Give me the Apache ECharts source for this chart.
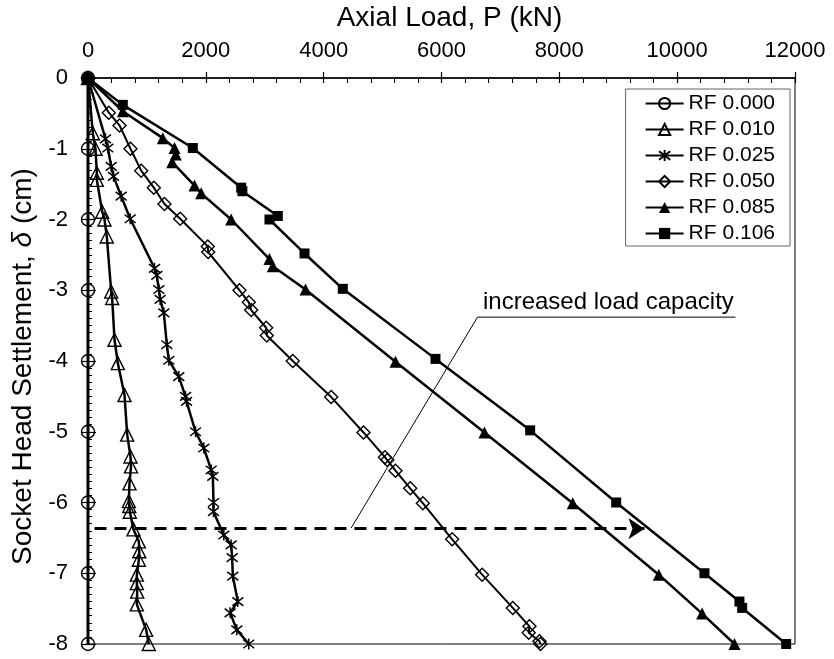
<!DOCTYPE html>
<html>
<head>
<meta charset="utf-8">
<script src="https://cdn.jsdelivr.net/npm/echarts@6/dist/echarts.min.js"></script>
<style>
html,body{margin:0;padding:0;background:#fff;}
#c{width:834px;height:659px;}
</style>
</head>
<body>
<div id="c"></div>
<script>
// ---- data (P in kN, settlement in cm) ----
const seriesNames = ['RF 0.000','RF 0.010','RF 0.025','RF 0.050','RF 0.085','RF 0.106'];
const xTicks = [0,2000,4000,6000,8000,10000,12000];
const yTicks = [0,-1,-2,-3,-4,-5,-6,-7,-8];

const rf000 = [[0,0],[0,-1],[0,-2],[0,-3],[0,-4],[0,-5],[0,-6],[0,-7],[0,-8]];
const rf010 = [[0,0],[82,-0.78],[127,-1.0],[150,-1.34],[150,-1.44],[241,-1.89],[280,-2.0],[319,-2.24],
  [394,-3.02],[410,-3.11],[450,-3.70],[506,-4.03],[620,-4.48],[665,-5.04],[721,-5.35],[730,-5.49],
  [704,-5.73],[693,-5.98],[700,-6.05],[710,-6.13],[772,-6.38],[863,-6.55],[870,-6.69],[863,-6.81],
  [829,-7.02],[829,-7.14],[835,-7.26],[829,-7.44],[987,-7.80],[1032,-8.0]];
const rf025 = [[0,0],[297,-0.86],[337,-0.99],[394,-1.25],[433,-1.39],[563,-1.67],[716,-1.99],[1129,-2.69],
  [1168,-2.79],[1202,-2.99],[1225,-3.13],[1287,-3.32],[1338,-3.77],[1372,-3.99],[1541,-4.22],[1655,-4.50],
  [1672,-4.57],[1825,-5.00],[1966,-5.23],[2091,-5.54],[2119,-5.63],[2130,-6.00],[2130,-6.13],[2305,-6.46],
  [2430,-6.60],[2447,-6.78],[2458,-7.04],[2543,-7.40],[2413,-7.56],[2526,-7.80],[2729,-8.0]];
const rf050 = [[0,0],[353,-0.49],[535,-0.67],[721,-1.0],[903,-1.31],[1117,-1.55],[1298,-1.78],[1565,-1.99],
  [2033,-2.38],[2040,-2.46],[2571,-3.0],[2729,-3.17],[2770,-3.28],[3024,-3.53],[3035,-3.64],[3476,-4.0],
  [4128,-4.51],[4676,-5.01],[5040,-5.36],[5080,-5.40],[5219,-5.55],[5469,-5.80],[5683,-6.01],[6181,-6.52],
  [6690,-7.02],[7210,-7.49],[7493,-7.75],[7480,-7.84],[7663,-7.96],[7680,-8.0]];
const rf085 = [[0,0],[591,-0.47],[1270,-0.85],[1468,-0.99],[1490,-1.08],[1429,-1.19],[1808,-1.52],[1921,-1.63],
  [2430,-2.0],[3080,-2.56],[3137,-2.66],[3692,-2.99],[5219,-4.01],[6729,-5.01],[8228,-6.01],[9688,-7.02],
  [10424,-7.57],[10973,-8.0]];
const rf106 = [[0,0],[591,-0.38],[1779,-0.99],[2600,-1.55],[2620,-1.60],[3222,-1.95],[3080,-2.0],[3675,-2.48],
  [4325,-2.98],[5898,-3.97],[7505,-4.98],[8965,-6.0],[10463,-7.0],[11057,-7.40],[11103,-7.49],[11850,-8.0]];

// annotation (data coordinates)
const arrowLine = [[110,-6.37],[9445,-6.37]];
const leaderLine = [[4467,-6.36],[6611,-3.38],[10990,-3.38]];
const annotText = 'increased load capacity';

const FONT = '"Liberation Sans", Arial, Helvetica, sans-serif';
const asterisk = 'path://M0,0L10,10M10,0L0,10M5,-1.5L5,11.5';

function mk(name, data, symbol, size, filled, lw){
  return {
    name, type:'line', data, symbol, symbolSize:size, showSymbol:true,
    lineStyle:{color:'#000', width:lw},
    itemStyle:{color: filled ? '#000' : 'rgba(255,255,255,0)', borderColor:'#000', borderWidth: filled?0:1.4, opacity:1},
    emphasis:{disabled:true}, z:3
  };
}

const chart = echarts.init(document.getElementById('c'), null, {renderer:'canvas'});
const series = [
  mk(seriesNames[0], rf000, 'circle', 13, false, 3),
  mk(seriesNames[1], rf010, 'triangle', 13, false, 2.5),
  Object.assign(mk(seriesNames[2], rf025, asterisk, 11, false, 2.5), {itemStyle:{color:'#000', borderColor:'#000', borderWidth:1.5}}),
  mk(seriesNames[3], rf050, 'diamond', 13, false, 2),
  mk(seriesNames[4], rf085, 'triangle', 12, true, 2.5),
  mk(seriesNames[5], rf106, 'rect', 10, true, 2.5),
  {
    name:'arrow', type:'line', data:[], silent:true, z:2, color:'#000',
    markLine:{
      silent:true, animation:false, symbol:['none','arrow'], symbolSize:16,
      label:{show:false},
      itemStyle:{color:'#000'},
      lineStyle:{color:'#000', width:3, type:[12,8]},
      data:[[{coord:arrowLine[0]},{coord:arrowLine[1]}]]
    }
  },
  {
    name:'leader', type:'line', data:leaderLine, silent:true, symbol:'none', z:2,
    lineStyle:{color:'#000', width:1}
  }
];

chart.setOption({
  animation:false,
  backgroundColor:'#fff',
  textStyle:{fontFamily:FONT},
  grid:{left:88, right:39, top:78, bottom:15, show:true, borderColor:'#000', borderWidth:1, containLabel:false, outerBoundsMode:'none'},
  legend:{
    orient:'vertical', right:44, top:89, data:seriesNames,
    itemWidth:38, itemHeight:14, itemGap:5,
    padding:[4,15,2,19], borderColor:'#666', borderWidth:1, backgroundColor:'#fff',
    textStyle:{fontSize:21, color:'#000', fontFamily:FONT},
    selectedMode:false
  },
  xAxis:[{
    type:'value', position:'top', min:0, max:12000, interval:2000,
    name:'Axial Load, P (kN)', nameLocation:'middle', nameGap:46,
    nameTextStyle:{fontSize:28, color:'#000', fontFamily:FONT, padding:[0,0,0,16]},
    axisLine:{show:true, lineStyle:{color:'#000', width:1.5}},
    axisTick:{show:true, inside:true, length:5, lineStyle:{color:'#000', width:1.2}},
    minorTick:{show:true, splitNumber:5, length:5, lineStyle:{color:'#000', width:1}},
    axisLabel:{fontSize:22, color:'#000', margin:16, fontFamily:FONT, formatter:v=>String(v), customValues: xTicks},
    splitLine:{show:false}, minorSplitLine:{show:false}
  },{
    type:'value', position:'top', min:0, max:12000, interval:2000,
    axisLine:{show:false}, axisLabel:{show:false},
    axisTick:{show:true, inside:false, length:6, lineStyle:{color:'#000', width:1.2}},
    splitLine:{show:false}
  }],
  yAxis:[{
    type:'value', min:-8, max:0, interval:1,
    name:'Socket Head Settlement, {i|δ} (cm)', nameLocation:'middle', nameGap:48,
    nameTextStyle:{fontSize:28, color:'#000', fontFamily:FONT, padding:[0,11,0,0],
      rich:{i:{fontSize:28, fontStyle:'italic', fontFamily:FONT, color:'#000'}}},
    axisLine:{show:true, lineStyle:{color:'#000', width:1.5}},
    axisTick:{show:true, inside:true, length:8, lineStyle:{color:'#000', width:1.2}},
    minorTick:{show:true, splitNumber:10, length:4, lineStyle:{color:'#000', width:1}},
    axisLabel:{fontSize:22, color:'#000', margin:20, fontFamily:FONT, formatter:v=>String(v), customValues: yTicks},
    splitLine:{show:false}, minorSplitLine:{show:false}
  },{
    type:'value', position:'left', min:-8, max:0, interval:1,
    axisLine:{show:false}, axisLabel:{show:false},
    axisTick:{show:true, inside:false, length:7, lineStyle:{color:'#000', width:1.2}},
    splitLine:{show:false}
  }],
  graphic:[{
    type:'text', left:483, top:290, silent:true,
    style:{text:annotText, fontSize:24, fontFamily:FONT, fill:'#000'}
  }],
  series
});
</script>
</body>
</html>
